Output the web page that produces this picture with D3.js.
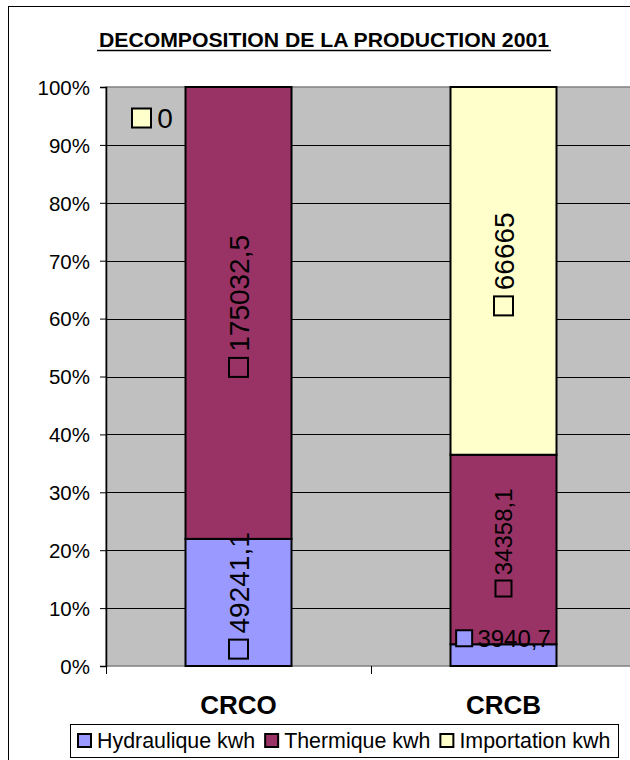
<!DOCTYPE html>
<html><head><meta charset="utf-8">
<script src="https://cdn.jsdelivr.net/npm/d3@7"></script>
<style>body{margin:0;background:#fff}svg{display:block;font-family:"Liberation Sans",Arial,sans-serif}</style>
</head><body>
<svg id="c" width="630" height="760"></svg>
<script>
const categories = ["CRCO", "CRCB"];
const seriesNames = ["Hydraulique kwh", "Thermique kwh", "Importation kwh"];
const hydraulique = [49241.1, 3940.7];
const thermique = [175032.5, 34358.1];
const importation = [0, 66665];
const yTickValues = [0, 0.1, 0.2, 0.3, 0.4, 0.5, 0.6, 0.7, 0.8, 0.9, 1];
const title = "DECOMPOSITION DE LA PRODUCTION 2001";

const colors = ["#9999FF", "#993366", "#FFFFCC"];
// label font size per category / series (style only)
const labelFont = (cat, key) => (cat === "CRCB" && key !== "Importation kwh") ? 24 : 28;

const rows = categories.map((c, i) => ({cat: c, [seriesNames[0]]: hydraulique[i], [seriesNames[1]]: thermique[i], [seriesNames[2]]: importation[i]}));
const stack = d3.stack().keys(seriesNames).offset(d3.stackOffsetExpand)(rows);

const svg = d3.select("#c");
const M = {left: 106, right: 636, top: 87, bottom: 666};
const x = d3.scaleBand().domain(categories).range([M.left, M.right]).paddingInner(0.6).paddingOuter(0.3);
const xb = d3.scaleBand().domain(categories).range([M.left, M.right]);
const y = d3.scaleLinear().domain([0, 1]).range([M.bottom, M.top]);

// chart border
svg.append("rect").attr("x", 8.5).attr("y", 6.5).attr("width", 700).attr("height", 800)
  .attr("fill", "#fff").attr("stroke", "#000").attr("stroke-width", 1);

// title
svg.append("text").attr("x", 324).attr("y", 47).attr("text-anchor", "middle")
  .attr("font-weight", "bold").attr("font-size", 20).attr("textLength", 450).attr("lengthAdjust", "spacingAndGlyphs").text(title);
svg.append("line").attr("x1", 97).attr("x2", 551).attr("y1", 50.5).attr("y2", 50.5).attr("stroke", "#000").attr("stroke-width", 1.5);

// plot area
svg.append("rect").attr("x", M.left).attr("y", M.top).attr("width", M.right - M.left).attr("height", M.bottom - M.top)
  .attr("fill", "#C0C0C0").attr("stroke", "#808080").attr("stroke-width", 1.5);

// gridlines
svg.append("g").selectAll("line").data(yTickValues.filter(v => v > 0 && v < 1)).join("line")
  .attr("x1", M.left).attr("x2", M.right).attr("y1", d => Math.round(y(d)) + 0.5).attr("y2", d => Math.round(y(d)) + 0.5)
  .attr("stroke", "#000").attr("stroke-width", 1);

// y axis
const ya = svg.append("g").attr("transform", `translate(${M.left},0)`)
  .call(d3.axisLeft(y).tickValues(yTickValues).tickFormat(d3.format(".0%")).tickSize(6).tickPadding(10));
ya.select(".domain").attr("stroke", "#000").attr("stroke-width", 1.5);
ya.selectAll(".tick line").attr("stroke", "#000");
ya.selectAll(".tick text").attr("font-size", 20.5).attr("font-family", "Liberation Sans, Arial, sans-serif").attr("fill", "#000").attr("dy", "0.36em");

// x axis ticks (category separators)
const xt = [M.left, ...categories.map(c => xb(c) + xb.bandwidth())];
svg.append("g").selectAll("line").data(xt).join("line")
  .attr("x1", d => d + 0.5).attr("x2", d => d + 0.5).attr("y1", M.bottom).attr("y2", M.bottom + 8).attr("stroke", "#000");

// bars
const bars = svg.append("g");
stack.forEach((s, si) => {
  bars.selectAll(null).data(s).join("rect")
    .attr("x", d => x(d.data.cat)).attr("width", x.bandwidth())
    .attr("y", d => y(d[1])).attr("height", d => y(d[0]) - y(d[1]))
    .attr("fill", colors[si]).attr("stroke", "#000").attr("stroke-width", 2);
});

// category labels
svg.append("g").selectAll("text").data(categories).join("text")
  .attr("x", d => x(d) + x.bandwidth() / 2).attr("y", 714).attr("text-anchor", "middle")
  .attr("font-weight", "bold").attr("font-size", 26).text(d => d);

// data labels
const fmt = v => String(v).replace(".", ",");
const lab = svg.append("g");
stack.forEach((s, si) => {
  s.forEach(d => {
    const v = d.data[s.key];
    const fs = labelFont(d.data.cat, s.key);
    const sq = Math.round(fs * 0.68);
    const gap = fs * 0.22;
    const cx = x(d.data.cat) + x.bandwidth() / 2;
    const g = lab.append("g");
    const t = g.append("text").attr("font-size", fs).text(fmt(v));
    const tl = t.node().getComputedTextLength();
    const L = sq + gap + tl;
    const segH = y(d[0]) - y(d[1]);
    if (v === 0) {
      // zero-height segment: label placed in the top-left of the plot
      g.attr("transform", `translate(${M.left + 26},${y(1) + 31})`);
      g.insert("rect", "text").attr("x", 0).attr("y", -sq / 2).attr("width", sq).attr("height", sq)
        .attr("fill", colors[si]).attr("stroke", "#000").attr("stroke-width", 2);
      t.attr("x", sq + gap).attr("y", fs * 0.36);
    } else if (segH < L) {
      // horizontal label sitting on top of the small segment
      g.attr("transform", `translate(${cx - L / 2},${y(d[1]) - 6})`);
      g.insert("rect", "text").attr("x", 0).attr("y", -sq / 2).attr("width", sq).attr("height", sq)
        .attr("fill", colors[si]).attr("stroke", "#000").attr("stroke-width", 2);
      t.attr("x", sq + gap).attr("y", fs * 0.36);
    } else {
      const cy = (y(d[0]) + y(d[1])) / 2 - 7;
      g.attr("transform", `translate(${cx},${cy}) rotate(-90)`);
      g.insert("rect", "text").attr("x", -L / 2).attr("y", -sq / 2).attr("width", sq).attr("height", sq)
        .attr("fill", colors[si]).attr("stroke", "#000").attr("stroke-width", 2);
      t.attr("x", -L / 2 + sq + gap).attr("y", fs * 0.36);
    }
  });
});

// legend
const lg = svg.append("g");
lg.append("rect").attr("x", 70.5).attr("y", 724.5).attr("width", 548).attr("height", 33)
  .attr("fill", "#fff").attr("stroke", "#000").attr("stroke-width", 1);
let lx = 78;
seriesNames.forEach((n, i) => {
  lg.append("rect").attr("x", lx).attr("y", 734).attr("width", 13).attr("height", 13)
    .attr("fill", colors[i]).attr("stroke", "#000").attr("stroke-width", 2);
  const t = lg.append("text").attr("x", lx + 19).attr("y", 748).attr("font-size", 21.4).text(n);
  lx += 19 + t.node().getComputedTextLength() + 10;
});
</script>
</body></html>
